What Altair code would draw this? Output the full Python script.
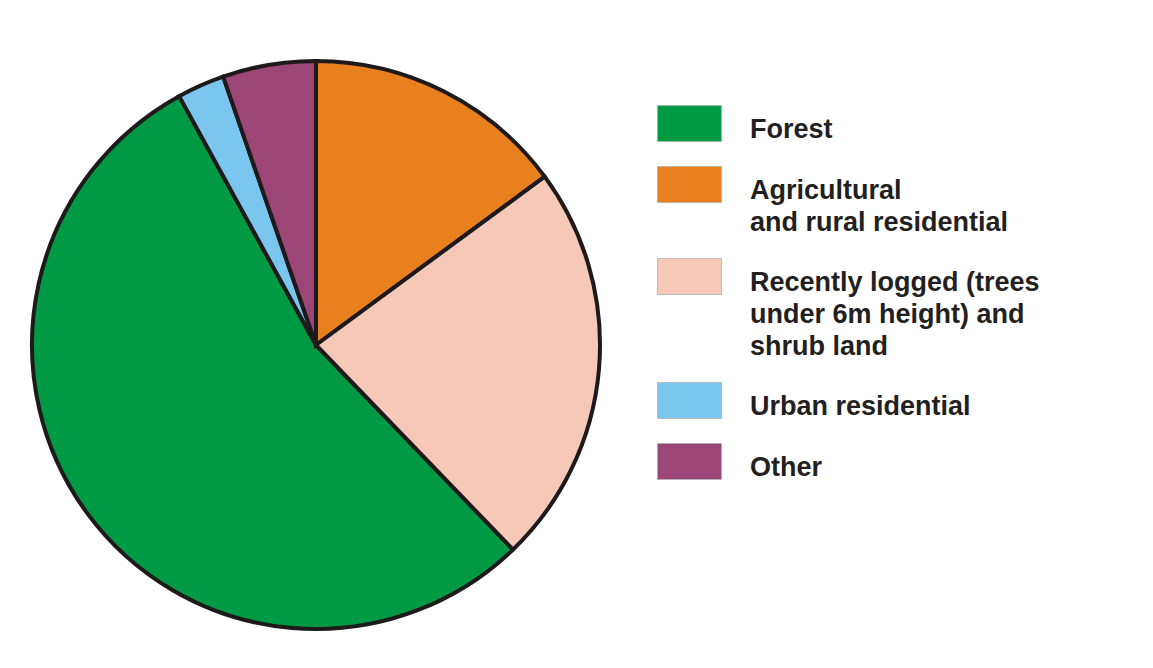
import altair as alt
import pandas as pd

# Land-use categories (legend order), their share of the pie (%), and the
# clockwise order of the slices starting at 12 o'clock.
categories = [
    "Forest",
    "Agricultural\nand rural residential",
    "Recently logged (trees\nunder 6m height) and\nshrub land",
    "Urban residential",
    "Other",
]
shares = [54.2, 14.9, 22.9, 2.7, 5.3]
slice_order = [3, 1, 2, 4, 5]
colors = ["#009a44", "#e8801e", "#f5c8b8", "#7ac6ee", "#9b4677"]

df = pd.DataFrame({"category": categories, "share": shares, "order": slice_order})

legend = alt.Legend(
    title=None,
    orient="none",
    legendX=649,
    legendY=76,
    padding=0,
    symbolType="M-1,-0.34375H1V0.78125H-1Z",
    symbolSize=4096,
    symbolStrokeWidth=0.8,
    symbolStrokeColor="#b0b0b0",
    labelExpr="split(datum.label, '\\n')",
    labelFont="Liberation Sans",
    labelFontWeight="bold",
    labelFontSize=27,
    labelColor="#231f20",
    labelBaseline="top",
    labelOffset=28,
    labelLimit=600,
    rowPadding=1,
)

chart = (
    alt.Chart(df)
    .mark_arc(stroke="#1e1a1b", strokeWidth=4, radius=284)
    .encode(
        theta=alt.Theta("share:Q", stack=True),
        order=alt.Order("order:Q"),
        color=alt.Color(
            "category:N",
            scale=alt.Scale(domain=categories, range=colors),
            legend=legend,
        ),
        x=alt.value(308),
        y=alt.value(337),
    )
    .properties(width=1137, height=652, padding=0, autosize=alt.AutoSizeParams(type="none"))
    .configure(
        view=alt.ViewConfig(stroke=None),
        style={"guide-label": {"lineHeight": 32}},
    )
)

chart.save("out.html", embed_options={"renderer": "svg", "actions": False})
